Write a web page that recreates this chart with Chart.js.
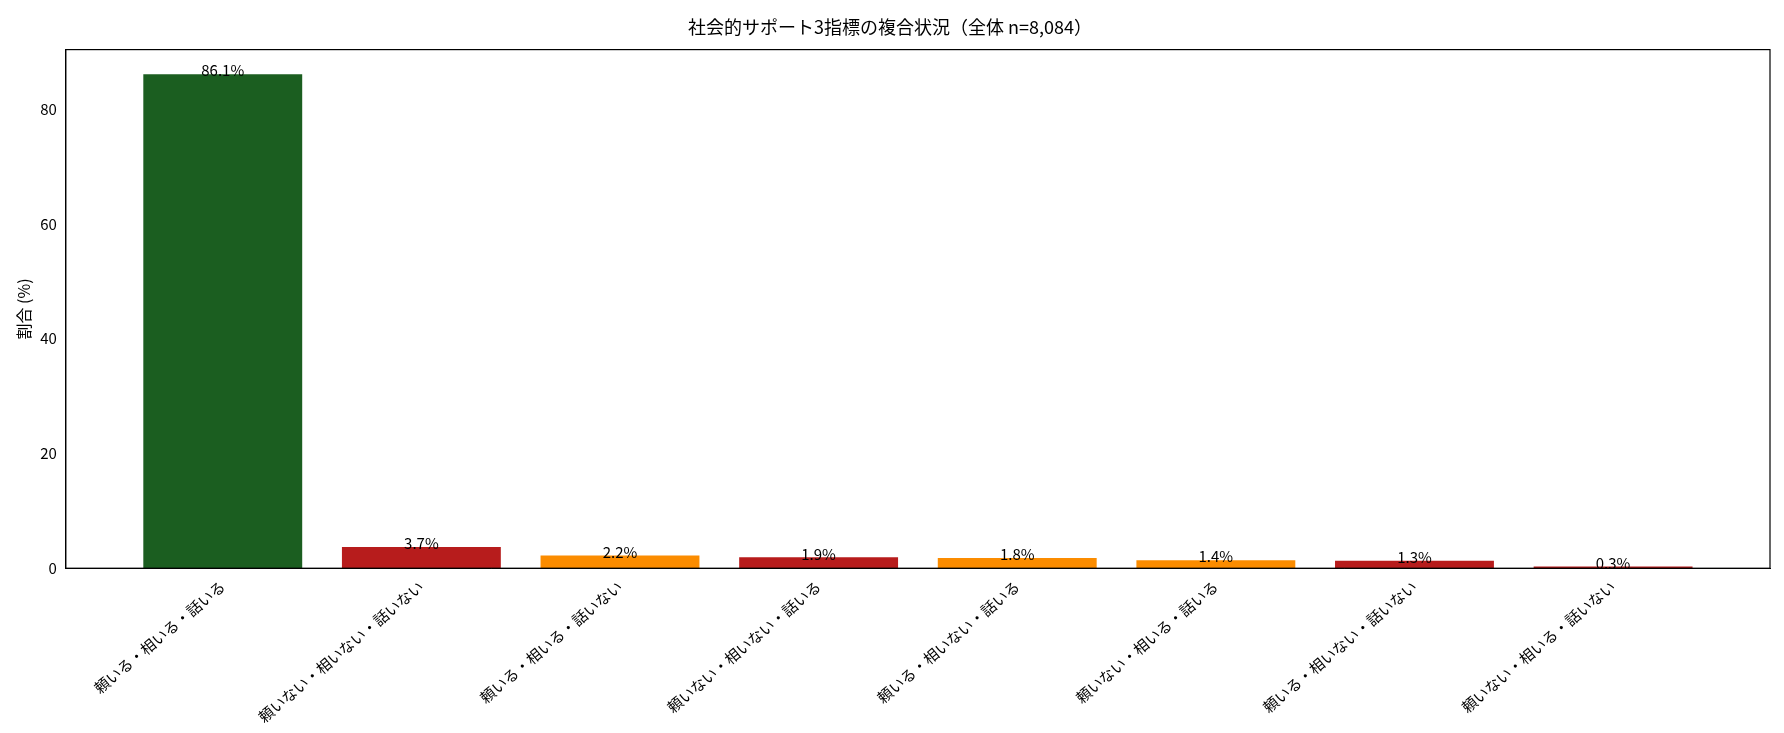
<!DOCTYPE html>
<html><head><meta charset="utf-8">
<script src="https://cdn.jsdelivr.net/npm/chart.js@4"></script>
<style>body{margin:0;background:#fff}#wrap{width:1784px;height:733px}</style>
</head><body><div id="wrap"><canvas id="c"></canvas></div>
<script>
const categories = ['頼いる・相いる・話いる', '頼いない・相いない・話いない', '頼いる・相いる・話いない', '頼いない・相いない・話いる',
  '頼いる・相いない・話いる', '頼いない・相いる・話いる', '頼いる・相いない・話いない', '頼いない・相いる・話いない'];
const values = [86.1, 3.7, 2.2, 1.9, 1.8, 1.4, 1.3, 0.3];
const barColors = ['#1b5e20', '#b71c1c', '#fb8c00', '#b71c1c', '#fb8c00', '#fb8c00', '#b71c1c', '#b71c1c'];
const FONT = '"Noto Sans CJK JP", sans-serif';

const valueLabels = {
  id: 'valueLabels',
  afterDatasetsDraw(chart) {
    const ctx = chart.ctx;
    const meta = chart.getDatasetMeta(0);
    ctx.save();
    ctx.font = '15px ' + FONT;
    ctx.fillStyle = '#000';
    ctx.textAlign = 'center';
    ctx.textBaseline = 'bottom';
    meta.data.forEach((bar, i) => {
      ctx.fillText(values[i].toFixed(1) + '%', bar.x, bar.y + 4);
    });
    ctx.restore();
  }
};
const frame = {
  id: 'frame',
  afterDraw(chart) {
    const a = chart.chartArea, ctx = chart.ctx;
    ctx.save();
    ctx.strokeStyle = '#000';
    ctx.lineWidth = 1.2;
    ctx.strokeRect(a.left, a.top, a.right - a.left, a.bottom - a.top);
    ctx.restore();
  }
};

new Chart(document.getElementById('c'), {
  type: 'bar',
  data: {
    datasets: [{
      data: values.map((v, i) => ({ x: i, y: v })),
      backgroundColor: barColors, barPercentage: 0.8, categoryPercentage: 1
    }]
  },
  plugins: [valueLabels, frame],
  options: {
    responsive: true,
    maintainAspectRatio: false,
    animation: false,
    layout: { padding: { left: 10, right: 14, top: 4, bottom: 4 } },
    plugins: {
      legend: { display: false },
      tooltip: { enabled: false },
      title: {
        display: true,
        text: '社会的サポート3指標の複合状況（全体 n=8,084）',
        color: '#000',
        font: { family: FONT, size: 18, weight: 'normal' },
        padding: { top: 12, bottom: 12 }
      }
    },
    scales: {
      x: {
        type: 'linear',
        offset: false,
        min: -0.79, max: 7.79,
        afterBuildTicks: s => { s.ticks = categories.map((c, i) => ({ value: i })); },
        grid: { display: false, drawTicks: true, tickLength: 6 },
        border: { color: '#000' },
        ticks: { color: '#000', font: { family: FONT, size: 15 }, minRotation: 40, maxRotation: 40, autoSkip: false,
          callback: v => categories[v] }
      },
      y: {
        min: 0, max: 90.4,
        afterBuildTicks: s => { s.ticks = [0, 20, 40, 60, 80].map(v => ({ value: v })); },
        grid: { display: false, drawTicks: true, tickLength: 6 },
        border: { color: '#000' },
        title: { display: true, text: '割合 (%)', color: '#000', font: { family: FONT, size: 16 } },
        ticks: { color: '#000', font: { family: FONT, size: 15 } }
      }
    }
  }
});
</script></body></html>
